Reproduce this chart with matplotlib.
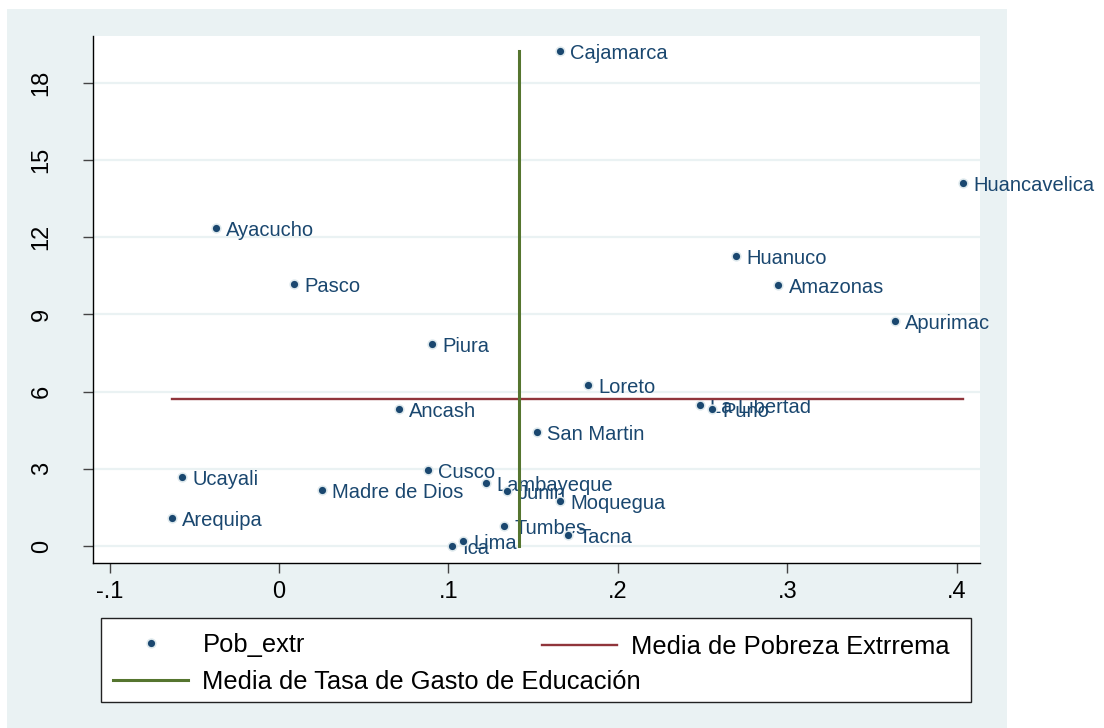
import matplotlib.pyplot as plt
from matplotlib.patches import Rectangle
from matplotlib.lines import Line2D

plt.rcParams['font.family'] = ['Liberation Sans', 'DejaVu Sans']

# Datos: tasa de gasto de educacion (x) y pobreza extrema (y) por region
regiones = ['Cajamarca', 'Huancavelica', 'Ayacucho', 'Huanuco', 'Pasco', 'Amazonas',
            'Apurimac', 'Piura', 'Loreto', 'La Libertad', 'Puno', 'Ancash', 'San Martin',
            'Cusco', 'Ucayali', 'Lambayeque', 'Madre de Dios', 'Junin', 'Moquegua',
            'Arequipa', 'Tumbes', 'Tacna', 'Lima', 'Ica']
tasa_gasto = [0.1659, 0.4038, -0.0372, 0.2698, 0.0089, 0.2946,
              0.3636, 0.0903, 0.1824, 0.2485, 0.2556, 0.0708, 0.1523,
              0.0880, -0.0573, 0.1222, 0.0254, 0.1346, 0.1659,
              -0.0632, 0.1328, 0.1706, 0.1086, 0.1021]
pob_extr = [19.24, 14.11, 12.36, 11.27, 10.18, 10.14,
            8.74, 7.85, 6.26, 5.48, 5.32, 5.32, 4.43,
            2.95, 2.68, 2.45, 2.18, 2.14, 1.75,
            1.09, 0.78, 0.43, 0.19, 0.0]
media_pobreza = 5.71
media_gasto = 0.1417

xticks = [-0.1, 0, 0.1, 0.2, 0.3, 0.4]
xticklabels = ['-.1', '0', '.1', '.2', '.3', '.4']
yticks = [0, 3, 6, 9, 12, 15, 18]

azul = '#1a476f'
rojo = '#90353b'
verde = '#55752f'
fondo = '#eaf2f3'

fig = plt.figure(figsize=(11.04, 7.28), dpi=100)
fig.patches.append(Rectangle((7 / 1104, 0), 1000 / 1104, 1 - 9 / 728,
                             transform=fig.transFigure, facecolor=fondo,
                             edgecolor='none', zorder=-10))

ax = fig.add_axes([93 / 1104, 1 - 563 / 728, 887 / 1104, 527 / 728])
ax.set_facecolor('white')

puntos, = ax.plot(tasa_gasto, pob_extr, 'o', color=azul, markersize=6.3,
                  markeredgecolor='#dde8ec', markeredgewidth=1.1, zorder=3,
                  label='Pob_extr')
for nombre, x, y in zip(regiones, tasa_gasto, pob_extr):
    ax.annotate(nombre, (x, y), xytext=(7.5, -2), textcoords='offset points',
                va='center', ha='left', fontsize=14.5, color=azul,
                annotation_clip=False, clip_on=False, zorder=2)

linea_roja, = ax.plot([min(tasa_gasto), max(tasa_gasto)], [media_pobreza, media_pobreza],
                      color=rojo, lw=1.7, zorder=4, label='Media de Pobreza Extrrema')
linea_verde, = ax.plot([media_gasto, media_gasto], [min(pob_extr), max(pob_extr)],
                       color=verde, lw=2.2, zorder=4,
                       label='Media de Tasa de Gasto de Educación')

ax.set_xlim(-0.1098, 0.4138)
ax.set_ylim(-0.66, 19.82)
ax.set_xticks(xticks)
ax.set_xticklabels(xticklabels)
ax.set_yticks(yticks)
ax.set_yticklabels([str(v) for v in yticks], rotation=90, va='center')
ax.tick_params(axis='x', length=7, width=1, color='#444444', labelsize=17, pad=6)
ax.tick_params(axis='y', length=7, width=1, color='#444444', labelsize=17, pad=22)
ax.yaxis.grid(True, color=fondo, lw=1.6)
ax.set_axisbelow(True)
for s in ['top', 'right']:
    ax.spines[s].set_visible(False)
for s in ['left', 'bottom']:
    ax.spines[s].set_color('black')
    ax.spines[s].set_linewidth(1.0)

# Caja de la leyenda
fig.patches.append(Rectangle((101 / 1104, 1 - 702 / 728), 870 / 1104, 84 / 728,
                             transform=fig.transFigure, facecolor='white',
                             edgecolor='#222222', lw=1.0, zorder=1))

h_pts = Line2D([], [], marker='o', ls='none', color=azul, markersize=6.3,
               markeredgecolor='#dde8ec', markeredgewidth=1.1)
leg1 = fig.legend([h_pts, linea_verde], ['Pob_extr', 'Media de Tasa de Gasto de Educación'],
                  loc='upper left', bbox_to_anchor=(113 / 1104, 1 - 633 / 728),
                  frameon=False, fontsize=18.4, handlelength=2.95, handletextpad=0.55,
                  borderpad=0, borderaxespad=0, labelspacing=0.5, numpoints=1)
leg2 = fig.legend([linea_roja], ['Media de Pobreza Extrrema'],
                  loc='upper left', bbox_to_anchor=(542 / 1104, 1 - 635 / 728),
                  frameon=False, fontsize=18.4, handlelength=2.95, handletextpad=0.55,
                  borderpad=0, borderaxespad=0)
for leg in (leg1, leg2):
    leg.set_zorder(5)

fig.savefig('out.png', dpi=100)
